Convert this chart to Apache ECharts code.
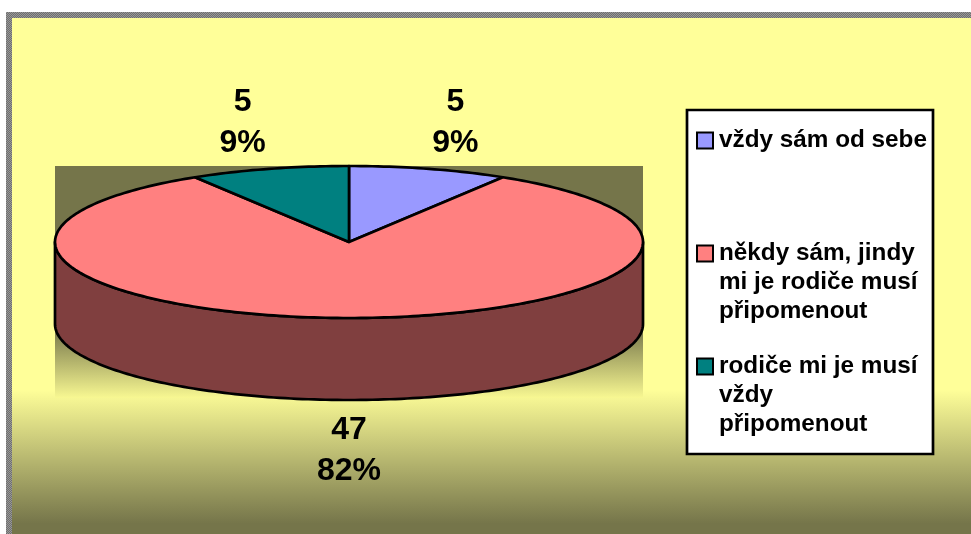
<!DOCTYPE html>
<html><head><meta charset="utf-8">
<style>html,body{margin:0;padding:0;background:#fff}#c{width:971px;height:534px}</style>
<script src="https://cdn.jsdelivr.net/npm/echarts@6/dist/echarts.min.js"></script>
</head><body><div id="c"></div>
<script>
const categories = ['vždy sám od sebe', 'někdy sám, jindy\nmi je rodiče musí\npřipomenout', 'rodiče mi je musí\nvždy\npřipomenout'];
const values = [5, 47, 5];
const topColors = ['#9999ff', '#ff8080', '#008080'];
const sideColors = ['#4d4d80', '#803f3f', '#004040'];

const total = values.reduce((a, b) => a + b, 0);
const cx = 349, cy = 242, rx = 294, ry = 76, depth = 82;
const FONT = '"Liberation Sans", Arial, sans-serif';
const OLIVE = '#75754a', YELLOW = '#ffff99';

function pt(a, dy) { return [cx + rx * Math.sin(a), cy - ry * Math.cos(a) + (dy || 0)]; }
function arc(a0, a1, dy) {
  const n = Math.max(2, Math.ceil(Math.abs(a1 - a0) / 0.02)), out = [];
  for (let i = 0; i <= n; i++) out.push(pt(a0 + (a1 - a0) * i / n, dy));
  return out;
}
function renderSlice(idx) {
  return function () {
    const before = values.slice(0, idx).reduce((a, b) => a + b, 0);
    const a0 = before / total * 2 * Math.PI, a1 = (before + values[idx]) / total * 2 * Math.PI;
    const mid = (a0 + a1) / 2, children = [];
    const s0 = Math.max(a0, Math.PI / 2), s1 = Math.min(a1, 3 * Math.PI / 2);
    const line = { stroke: '#000', lineWidth: 2.7, lineJoin: 'round' };
    if (s1 > s0) {
      children.push({ type: 'polygon', shape: { points: arc(s0, s1, 0).concat(arc(s1, s0, depth)) },
        style: Object.assign({ fill: sideColors[idx] }, line) });
    }
    children.push({ type: 'polygon', shape: { points: [[cx, cy]].concat(arc(a0, a1, 0)) },
      style: Object.assign({ fill: topColors[idx] }, line) });
    const front = Math.cos(mid) < 0;
    const lx = cx + 1.33 * rx * Math.sin(mid);
    const ly = cy - (ry + 48.5) * Math.cos(mid) + (front ? depth + 2 : 0);
    children.push({ type: 'text', z2: 10, style: {
      text: values[idx] + '\n' + Math.round(values[idx] / total * 100) + '%',
      x: lx, y: ly, align: 'center', verticalAlign: 'middle',
      font: 'bold 32px ' + FONT, lineHeight: 41, fill: '#000' } });
    return { type: 'group', children };
  };
}
function dither() {
  const c = document.createElement('canvas'); c.width = c.height = 2;
  const g = c.getContext('2d');
  g.fillStyle = '#6f6f6f'; g.fillRect(0, 0, 2, 2);
  g.fillStyle = '#989898'; g.fillRect(0, 0, 1, 1); g.fillRect(1, 1, 1, 1);
  return c;
}
function vGrad(stops) { return new echarts.graphic.LinearGradient(0, 0, 0, 1, stops); }

const chart = echarts.init(document.getElementById('c'), null, { renderer: 'canvas' });
chart.setOption({
  animation: false,
  backgroundColor: '#fff',
  graphic: { elements: [
    { type: 'rect', silent: true, z: 0, shape: { x: 6, y: 12, width: 965, height: 522 },
      style: { fill: { image: dither(), repeat: 'repeat' } } },
    { type: 'rect', silent: true, z: 0, z2: 1, shape: { x: 12, y: 18, width: 959, height: 516 },
      style: { fill: vGrad([{ offset: 0, color: YELLOW }, { offset: 0.72, color: YELLOW }, { offset: 0.98, color: OLIVE }, { offset: 1, color: OLIVE }]) } },
    { type: 'rect', silent: true, z: 0, z2: 2, shape: { x: 55, y: 166, width: 588, height: 232 },
      style: { fill: vGrad([{ offset: 0, color: OLIVE }, { offset: 0.7, color: OLIVE }, { offset: 1, color: '#f8f892' }]) } },
    { type: 'rect', silent: true, z: 0, z2: 3, shape: { x: 687, y: 110, width: 246, height: 344 },
      style: { fill: '#fff', stroke: '#000', lineWidth: 2.7 } }
  ] },
  legend: {
    orient: 'vertical', left: 691, top: 63, itemWidth: 16, itemHeight: 16, itemGap: -32,
    selectedMode: false, icon: 'rect',
    itemStyle: { borderColor: '#000', borderWidth: 2 },
    data: categories,
    // blank lines keep the swatch beside the first text line, as in the reference
    formatter: name => '\n\n' + name + (name.includes('\n') ? '' : '\n\n'),
    textStyle: { fontFamily: FONT, fontWeight: 'bold', fontSize: 24.3, color: '#000', lineHeight: 29, padding: [0, 0, 0, 1] }
  },
  series: categories.map((name, i) => ({
    type: 'custom', name, coordinateSystem: 'none', z: 2, silent: true,
    itemStyle: { color: topColors[i] },
    renderItem: renderSlice(i), data: [values[i]]
  }))
});
</script></body></html>
